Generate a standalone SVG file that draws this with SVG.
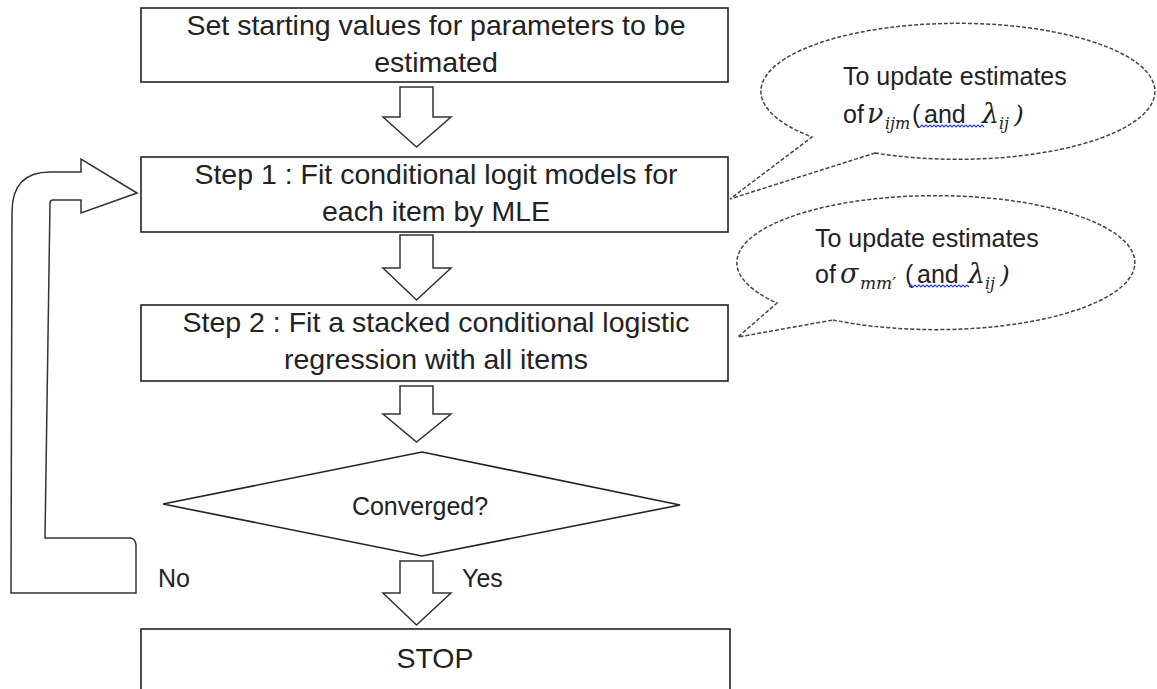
<svg xmlns="http://www.w3.org/2000/svg" width="1157" height="689" viewBox="0 0 1157 689">
<style>
.box{fill:#fff;stroke:#222;stroke-width:1.6}
.arr{fill:#fff;stroke:#333;stroke-width:1.5;stroke-linejoin:miter}
.bub{fill:#fff;stroke:#444;stroke-width:1.5;stroke-dasharray:4 2}
.t{font-family:"Liberation Sans",Arial,sans-serif;font-size:28.5px;fill:#222;text-anchor:middle}
.s{font-family:"Liberation Sans",Arial,sans-serif;font-size:25px;fill:#222}
.m{font-family:"DejaVu Serif","Liberation Serif",serif;font-style:italic;fill:#222}
.wavy{fill:none;stroke:#2b3fd6;stroke-width:1.2}
</style>
<rect width="1157" height="689" fill="#fff"/>
<g id="connectors">
<path class="arr" d="M400,87 L433,87 L433,117 L451,117 L416.5,147 L383,117 L400,117 Z"/>
<path class="arr" d="M400,235 L433,235 L433,268 L451,268 L416.5,300 L383,268 L400,268 Z"/>
<path class="arr" d="M400,386 L433,386 L433,414 L451,414 L416.5,442 L383,414 L400,414 Z"/>
<path class="arr" d="M400,561 L433,561 L433,593 L451,593 L416.5,625 L383,593 L400,593 Z"/>
<path class="arr" d="M137,193 L81,159 L81,172 L50,172 Q12,172 12,212 L11,593 L136,593 L136,545 Q135,538 130,538 L45,538 L50,203 Q50,200 53,200 L81,200 L81,213 Z"/>
</g>
<g id="start">
<rect class="box" x="141" y="8" width="587" height="74"/>
<text class="t" x="436" y="35">Set starting values for parameters to be</text>
<text class="t" x="436" y="72">estimated</text>
</g>
<g id="step1">
<rect class="box" x="141" y="157" width="587" height="75"/>
<text class="t" x="436" y="184">Step 1 : Fit conditional logit models for</text>
<text class="t" x="436" y="221">each item by MLE</text>
</g>
<g id="step2">
<rect class="box" x="141" y="305" width="587" height="76"/>
<text class="t" x="436" y="332">Step 2 : Fit a stacked conditional logistic</text>
<text class="t" x="436" y="369">regression with all items</text>
</g>
<g id="converged">
<path class="box" d="M422,452 L680,505 L422,556 L163,504 Z"/>
<text class="s" x="420" y="515" text-anchor="middle">Converged?</text>
</g>
<g id="labels">
<text class="s" x="158" y="587" font-size="26">No</text>
<text class="s" x="462" y="587" font-size="26">Yes</text>
</g>
<g id="stop">
<rect class="box" x="141" y="629" width="589" height="70"/>
<text class="t" x="435" y="668" font-size="25">STOP</text>
</g>
<g id="bubble1">
<path class="bub" d="M875,153 A197,68 0 1 0 812,137 L730,199 Z"/>
<text class="s" x="843" y="85">To update estimates</text>
<text class="s" x="843" y="123">of</text>
<text class="m" x="867" y="123" font-size="27">ν</text>
<text class="m" x="885" y="129" font-size="16">ijm</text>
<text class="s" x="912" y="123">(</text>
<text class="s" x="924" y="123">and</text>
<text class="m" x="982" y="123" font-size="27">λ</text>
<text class="m" x="999" y="129" font-size="16">ij</text>
<text class="m" x="1014" y="123" font-size="25" font-style="normal">)</text>
<path class="wavy" d="M920,127 l2,-2 l2,2 l2,-2 l2,2 l2,-2 l2,2 l2,-2 l2,2 l2,-2 l2,2 l2,-2 l2,2 l2,-2 l2,2 l2,-2 l2,2 l2,-2 l2,2 l2,-2 l2,2 l2,-2 l2,2 l2,-2 l2,2 l2,-2 l2,2 l2,-2 l2,2 l2,-2 l2,2 l2,-2 l2,2"/>
</g>
<g id="bubble2">
<path class="bub" d="M833,320 A199,67 0 1 0 777,303 L738,337 Z"/>
<text class="s" x="815" y="247">To update estimates</text>
<text class="s" x="815" y="283">of</text>
<text class="m" x="840" y="283" font-size="27">σ</text>
<text class="m" x="860" y="289" font-size="17">mm′</text>
<text class="s" x="905" y="283">(</text>
<text class="s" x="917" y="283">and</text>
<text class="m" x="968" y="283" font-size="27">λ</text>
<text class="m" x="985" y="289" font-size="16">ij</text>
<text class="m" x="1000" y="283" font-size="25" font-style="normal">)</text>
<path class="wavy" d="M909,287 l2,-2 l2,2 l2,-2 l2,2 l2,-2 l2,2 l2,-2 l2,2 l2,-2 l2,2 l2,-2 l2,2 l2,-2 l2,2 l2,-2 l2,2 l2,-2 l2,2 l2,-2 l2,2 l2,-2 l2,2 l2,-2 l2,2 l2,-2 l2,2 l2,-2 l2,2 l2,-2 l2,2"/>
</g>
</svg>
